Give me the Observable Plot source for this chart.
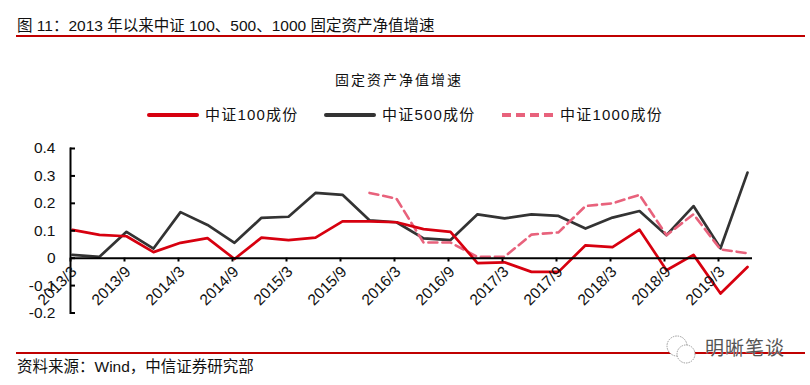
<!DOCTYPE html>
<html><head><meta charset="utf-8">
<script src="https://cdn.jsdelivr.net/npm/d3@7"></script>
<script src="https://cdn.jsdelivr.net/npm/@observablehq/plot@0.6"></script>
<style>
html,body{margin:0;padding:0;background:#fff;width:810px;height:385px;overflow:hidden}
body{position:relative;font-family:"Liberation Sans","Noto Sans CJK SC",sans-serif;color:#111}
.t{position:absolute;white-space:nowrap;line-height:1}
.r{position:absolute;left:16px;width:789px;height:2px;background:#c00000}
#chart{position:absolute;left:0;top:0}
.k{position:absolute;top:113px;height:4px;width:52px;border-radius:2px}
</style></head><body>
<div id="chart"></div>
<div class="t" style="left:17px;top:18px;font-size:15.5px" id="head"></div>
<div class="r" style="top:35px"></div>
<div class="t" style="left:335px;top:73px;font-size:14px;letter-spacing:2px" id="sub"></div>
<div class="k" style="left:147px;background:#d7000f"></div>
<div class="t" style="left:205px;top:107px;font-size:15px;letter-spacing:1.2px" id="l0"></div>
<div class="k" style="left:324px;background:#333"></div>
<div class="t" style="left:382px;top:107px;font-size:15px;letter-spacing:1.2px" id="l1"></div>
<svg style="position:absolute;left:500px;top:110px" width="56" height="10"><line x1="2" x2="54" y1="5" y2="5" stroke="#e8627c" stroke-width="4" stroke-dasharray="9 5"/></svg>
<div class="t" style="left:560px;top:107px;font-size:15px;letter-spacing:1.2px" id="l2"></div>
<div class="r" style="top:352px"></div>
<div class="t" style="left:17px;top:359px;font-size:15.5px" id="src"></div>
<svg style="position:absolute;left:666px;top:334px" width="32" height="34" fill="none" stroke="#999" stroke-width="1" stroke-dasharray="1.5 1"><circle cx="11" cy="12" r="10" fill="#fff"/><circle cx="20" cy="20" r="9" fill="#fff"/></svg>
<div class="t" style="left:705px;top:339px;font-size:19px;color:#555;letter-spacing:1px;text-shadow:0 0 1px #fff" id="wm"></div>
<script>
const categories = ["2013/3","2013/6","2013/9","2013/12","2014/3","2014/6","2014/9","2014/12","2015/3","2015/6","2015/9","2015/12","2016/3","2016/6","2016/9","2016/12","2017/3","2017/6","2017/9","2017/12","2018/3","2018/6","2018/9","2018/12","2019/3","2019/6"];
const csi100 = [0.103,0.085,0.08,0.022,0.056,0.073,-0.003,0.075,0.066,0.075,0.134,0.134,0.131,0.106,0.096,-0.018,-0.015,-0.05,-0.05,0.047,0.04,0.104,-0.044,0.012,-0.129,-0.032];
const csi500 = [0.012,0.005,0.096,0.035,0.168,0.121,0.056,0.147,0.151,0.238,0.231,0.138,0.131,0.072,0.066,0.16,0.145,0.16,0.154,0.108,0.148,0.172,0.084,0.19,0.036,0.312];
const csi1000 = [null,null,null,null,null,null,null,null,null,null,null,0.238,0.217,0.057,0.057,0.005,0.005,0.086,0.094,0.19,0.2,0.231,0.084,0.16,0.032,0.018];
const tickLabels = categories.filter((d,i)=>i%2===0);
const yTicks = [-0.2,-0.1,0,0.1,0.2,0.3,0.4];
const tickDepth = -0.014;
const names = ["中证100成份","中证500成份","中证1000成份"];
const texts = {head:"图 11：2013 年以来中证 100、500、1000 固定资产净值增速",sub:"固定资产净值增速",src:"资料来源：Wind，中信证券研究部",wm:"明晰笔谈"};
for (const k in texts) document.getElementById(k).textContent = texts[k];
names.forEach((n,i)=>document.getElementById("l"+i).textContent=n);
const rows = s => categories.map((c,i)=>({c,v:s[i]}));
const font = '"Liberation Sans","Noto Sans CJK SC",sans-serif';
const plot = Plot.plot({
  width:810,height:385,
  marginLeft:70,marginRight:58,marginTop:148,marginBottom:72.5,
  style:{fontFamily:font,background:"transparent",overflow:"visible"},
  x:{type:"point",domain:categories,range:[58.5,760.5],axis:null},
  y:{domain:[-0.2,0.4],label:null,axis:null},
  marks:[
    Plot.line(rows(csi500),{x:"c",y:"v",stroke:"#333333",strokeWidth:2.7,curve:"linear"}),
    Plot.line(rows(csi1000),{x:"c",y:"v",stroke:"#e8627c",strokeWidth:2.6,strokeDasharray:"9 5",defined:d=>d.v!=null,curve:"linear"}),
    Plot.line(rows(csi100),{x:"c",y:"v",stroke:"#d7000f",strokeWidth:2.7,curve:"linear"}),
    Plot.ruleY([0],{stroke:"#000",strokeWidth:2}),
    Plot.ruleX(tickLabels,{x:d=>d,y1:()=>0,y2:()=>tickDepth,dx:-2,stroke:"#000",strokeWidth:2}),
    Plot.frame({anchor:"left",stroke:"#000",strokeWidth:2}),
    Plot.axisY({ticks:yTicks,anchor:"left",tickSize:-5,tickPadding:20,strokeWidth:2,stroke:"#000",fontSize:15.5,fill:"#111",
      tickFormat:d=>d===0?"0":d3.format(".1f")(d).replace("−","-"),label:null}),
    Plot.text(tickLabels,{x:d=>d,y:()=>0,text:d=>d,rotate:-45,textAnchor:"end",lineAnchor:"middle",dx:1.5,dy:11,fontSize:15.5,fill:"#111"})
  ]
});
document.getElementById("chart").append(plot);
</script>
</body></html>
